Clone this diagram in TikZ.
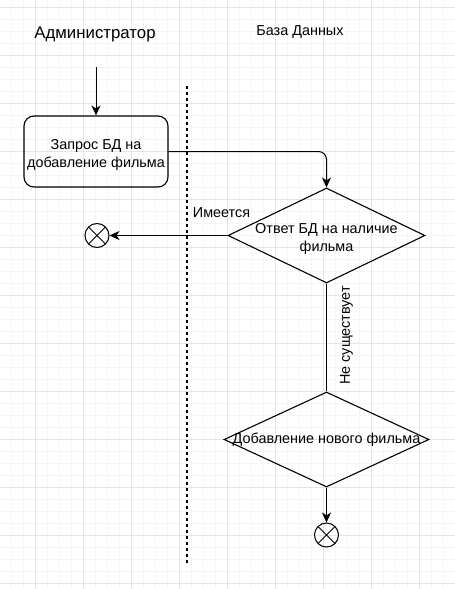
\documentclass[tikz,border=0pt]{standalone}
\usepackage{fontspec}
\setmainfont{Liberation Sans}
\usetikzlibrary{shapes.geometric, arrows.meta, positioning}

\begin{document}
\begin{tikzpicture}[
    x=1pt, y=-1pt,
    >={Stealth[length=10pt, width=9pt, inset=3pt]},
    every node/.style={font=\fontsize{14.4}{17.3}\selectfont, align=center},
    heading/.style={font=\fontsize{16.8}{20}\selectfont},
    twolines/.style={yshift=-3.5pt},
    minorgrid/.style={draw=black!4, line width=0.6pt},
    majorgrid/.style={draw=black!10, line width=0.8pt},
    activity/.style={draw, rounded corners=10pt, line width=1.1pt, minimum width=144pt, minimum height=71pt},
    decision/.style={draw, diamond, inner sep=0pt, line width=1.1pt},
    finish/.style={draw, circle, line width=1pt, minimum size=24pt, inner sep=0pt,
        path picture={\draw[line width=1pt] (path picture bounding box.north west) -- (path picture bounding box.south east)
                      (path picture bounding box.north east) -- (path picture bounding box.south west);}},
    flow/.style={->, line width=1pt},
    lane/.style={line width=1.2pt, dash pattern=on 3.3pt off 2.7pt}
]
    \useasboundingbox (0,0) rectangle (455,589);

    % Grid
    \foreach \x in {11,23,...,455} \draw[minorgrid] (\x,0) -- (\x,589);
    \foreach \y in {7,19,...,589} \draw[minorgrid] (0,\y) -- (455,\y);
    \foreach \x in {35,83,...,455} \draw[majorgrid] (\x,0) -- (\x,589);
    \foreach \y in {7,55,...,589} \draw[majorgrid] (0,\y) -- (455,\y);

    % Lane titles
    \node[heading] (admin) at (95,34.5) {Администратор};
    \node (db) at (300,32) {База Данных};

    % Lane divider
    \coordinate (laneTop) at (187,86);
    \coordinate (laneBottom) at (187,563);
    \draw[lane] (laneTop) -- (laneBottom);

    % Administrator side
    \coordinate (start) at (96,67);
    \node[activity] (request) at (96,151.5) {};
    \node[twolines] (requesttext) at (request) {Запрос БД на\\добавление фильма};

    % Database side
    \node[decision, minimum width=197pt, minimum height=95pt] (check) at (326.5,235.5) {};
    \node[twolines] (checktext) at (check) {Ответ БД на наличие\\фильма};
    \node[decision, below of=check, node distance=204pt, minimum width=205pt, minimum height=95pt] (add) {};
    \node (addtext) at (add) {Добавление нового фильма};

    % Final states
    \node[finish, left of=check, node distance=229.5pt] (endexists) {};
    \node[finish, below of=add, node distance=95.5pt] (endadded) {};

    % Edges
    \draw[flow] (start) -- (request);
    \draw[flow, rounded corners=8pt] (request.east) -| (check.north);
    \draw[flow] (check.west) -- node[pos=0.05, above=14pt] (existslabel) {Имеется} (endexists);
    \draw[line width=1pt] (check.south) -- node[pos=0.48, rotate=90, anchor=north, inner ysep=13pt] (newlabel) {Не существует} (add.north);
    \draw[flow] (add.south) -- (endadded);

\end{tikzpicture}
\end{document}
